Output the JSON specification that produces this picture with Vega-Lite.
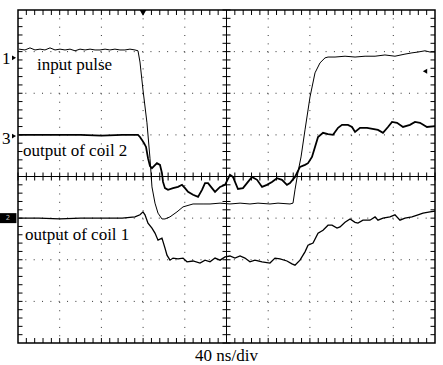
{
"$schema": "https://vega.github.io/schema/vega-lite/v6.json",
"width": 417, "height": 333,
"autosize": {"type": "none"},
"padding": {"left": 18, "top": 10, "right": 8, "bottom": 22},
"background": "white",
"config": {"view": {"stroke": "black", "strokeWidth": 1.5}, "font": "Liberation Serif"},
"datasets": {
"gridx": [{"t":40},{"t":80},{"t":120},{"t":160},{"t":240},{"t":280},{"t":320},{"t":360}],
"gridy": [{"v":-3},{"v":-2},{"v":-1},{"v":1},{"v":2},{"v":3}],
"cx": [{"t":200}],
"cy": [{"v":0}],
"txc": [{"t":0,"v":0},{"t":8,"v":0},{"t":16,"v":0},{"t":24,"v":0},{"t":32,"v":0},{"t":40,"v":0},{"t":48,"v":0},{"t":56,"v":0},{"t":64,"v":0},{"t":72,"v":0},{"t":80,"v":0},{"t":88,"v":0},{"t":96,"v":0},{"t":104,"v":0},{"t":112,"v":0},{"t":120,"v":0},{"t":128,"v":0},{"t":136,"v":0},{"t":144,"v":0},{"t":152,"v":0},{"t":160,"v":0},{"t":168,"v":0},{"t":176,"v":0},{"t":184,"v":0},{"t":192,"v":0},{"t":208,"v":0},{"t":216,"v":0},{"t":224,"v":0},{"t":232,"v":0},{"t":240,"v":0},{"t":248,"v":0},{"t":256,"v":0},{"t":264,"v":0},{"t":272,"v":0},{"t":280,"v":0},{"t":288,"v":0},{"t":296,"v":0},{"t":304,"v":0},{"t":312,"v":0},{"t":320,"v":0},{"t":328,"v":0},{"t":336,"v":0},{"t":344,"v":0},{"t":352,"v":0},{"t":360,"v":0},{"t":368,"v":0},{"t":376,"v":0},{"t":384,"v":0},{"t":392,"v":0},{"t":400,"v":0}],
"txb": [{"t":8,"v":-4},{"t":16,"v":-4},{"t":24,"v":-4},{"t":32,"v":-4},{"t":40,"v":-4},{"t":48,"v":-4},{"t":56,"v":-4},{"t":64,"v":-4},{"t":72,"v":-4},{"t":80,"v":-4},{"t":88,"v":-4},{"t":96,"v":-4},{"t":104,"v":-4},{"t":112,"v":-4},{"t":120,"v":-4},{"t":128,"v":-4},{"t":136,"v":-4},{"t":144,"v":-4},{"t":152,"v":-4},{"t":160,"v":-4},{"t":168,"v":-4},{"t":176,"v":-4},{"t":184,"v":-4},{"t":192,"v":-4},{"t":200,"v":-4},{"t":208,"v":-4},{"t":216,"v":-4},{"t":224,"v":-4},{"t":232,"v":-4},{"t":240,"v":-4},{"t":248,"v":-4},{"t":256,"v":-4},{"t":264,"v":-4},{"t":272,"v":-4},{"t":280,"v":-4},{"t":288,"v":-4},{"t":296,"v":-4},{"t":304,"v":-4},{"t":312,"v":-4},{"t":320,"v":-4},{"t":328,"v":-4},{"t":336,"v":-4},{"t":344,"v":-4},{"t":352,"v":-4},{"t":360,"v":-4},{"t":368,"v":-4},{"t":376,"v":-4},{"t":384,"v":-4},{"t":392,"v":-4},{"t":8,"v":4},{"t":16,"v":4},{"t":24,"v":4},{"t":32,"v":4},{"t":40,"v":4},{"t":48,"v":4},{"t":56,"v":4},{"t":64,"v":4},{"t":72,"v":4},{"t":80,"v":4},{"t":88,"v":4},{"t":96,"v":4},{"t":104,"v":4},{"t":112,"v":4},{"t":120,"v":4},{"t":128,"v":4},{"t":136,"v":4},{"t":144,"v":4},{"t":152,"v":4},{"t":160,"v":4},{"t":168,"v":4},{"t":176,"v":4},{"t":184,"v":4},{"t":192,"v":4},{"t":200,"v":4},{"t":208,"v":4},{"t":216,"v":4},{"t":224,"v":4},{"t":232,"v":4},{"t":240,"v":4},{"t":248,"v":4},{"t":256,"v":4},{"t":264,"v":4},{"t":272,"v":4},{"t":280,"v":4},{"t":288,"v":4},{"t":296,"v":4},{"t":304,"v":4},{"t":312,"v":4},{"t":320,"v":4},{"t":328,"v":4},{"t":336,"v":4},{"t":344,"v":4},{"t":352,"v":4},{"t":360,"v":4},{"t":368,"v":4},{"t":376,"v":4},{"t":384,"v":4},{"t":392,"v":4}],
"tyc": [{"t":200,"v":-4},{"t":200,"v":-3.8},{"t":200,"v":-3.6},{"t":200,"v":-3.4},{"t":200,"v":-3.2},{"t":200,"v":-3},{"t":200,"v":-2.8},{"t":200,"v":-2.6},{"t":200,"v":-2.4},{"t":200,"v":-2.2},{"t":200,"v":-2},{"t":200,"v":-1.8},{"t":200,"v":-1.6},{"t":200,"v":-1.4},{"t":200,"v":-1.2},{"t":200,"v":-1},{"t":200,"v":-0.8},{"t":200,"v":-0.6},{"t":200,"v":-0.4},{"t":200,"v":-0.2},{"t":200,"v":0.2},{"t":200,"v":0.4},{"t":200,"v":0.6},{"t":200,"v":0.8},{"t":200,"v":1},{"t":200,"v":1.2},{"t":200,"v":1.4},{"t":200,"v":1.6},{"t":200,"v":1.8},{"t":200,"v":2},{"t":200,"v":2.2},{"t":200,"v":2.4},{"t":200,"v":2.6},{"t":200,"v":2.8},{"t":200,"v":3},{"t":200,"v":3.2},{"t":200,"v":3.4},{"t":200,"v":3.6},{"t":200,"v":3.8},{"t":200,"v":4}],
"tyb": [{"t":0,"v":-3.8},{"t":0,"v":-3.6},{"t":0,"v":-3.4},{"t":0,"v":-3.2},{"t":0,"v":-3},{"t":0,"v":-2.8},{"t":0,"v":-2.6},{"t":0,"v":-2.4},{"t":0,"v":-2.2},{"t":0,"v":-2},{"t":0,"v":-1.8},{"t":0,"v":-1.6},{"t":0,"v":-1.4},{"t":0,"v":-1.2},{"t":0,"v":-1},{"t":0,"v":-0.8},{"t":0,"v":-0.6},{"t":0,"v":-0.4},{"t":0,"v":-0.2},{"t":0,"v":0},{"t":0,"v":0.2},{"t":0,"v":0.4},{"t":0,"v":0.6},{"t":0,"v":0.8},{"t":0,"v":1},{"t":0,"v":1.2},{"t":0,"v":1.4},{"t":0,"v":1.6},{"t":0,"v":1.8},{"t":0,"v":2},{"t":0,"v":2.2},{"t":0,"v":2.4},{"t":0,"v":2.6},{"t":0,"v":2.8},{"t":0,"v":3},{"t":0,"v":3.2},{"t":0,"v":3.4},{"t":0,"v":3.6},{"t":0,"v":3.8},{"t":400,"v":-3.8},{"t":400,"v":-3.6},{"t":400,"v":-3.4},{"t":400,"v":-3.2},{"t":400,"v":-3},{"t":400,"v":-2.8},{"t":400,"v":-2.6},{"t":400,"v":-2.4},{"t":400,"v":-2.2},{"t":400,"v":-2},{"t":400,"v":-1.8},{"t":400,"v":-1.6},{"t":400,"v":-1.4},{"t":400,"v":-1.2},{"t":400,"v":-1},{"t":400,"v":-0.8},{"t":400,"v":-0.6},{"t":400,"v":-0.4},{"t":400,"v":-0.2},{"t":400,"v":0},{"t":400,"v":0.2},{"t":400,"v":0.4},{"t":400,"v":0.6},{"t":400,"v":0.8},{"t":400,"v":1},{"t":400,"v":1.2},{"t":400,"v":1.4},{"t":400,"v":1.6},{"t":400,"v":1.8},{"t":400,"v":2},{"t":400,"v":2.2},{"t":400,"v":2.4},{"t":400,"v":2.6},{"t":400,"v":2.8},{"t":400,"v":3},{"t":400,"v":3.2},{"t":400,"v":3.4},{"t":400,"v":3.6},{"t":400,"v":3.8}],
"input": [{"t":1,"v":3.06},{"t":6.7,"v":3.04},{"t":11.5,"v":3.09},{"t":16.3,"v":3.04},{"t":21.1,"v":3.06},{"t":25.9,"v":3.04},{"t":30.7,"v":3.09},{"t":35.5,"v":3.04},{"t":40.3,"v":3.06},{"t":45.1,"v":3.04},{"t":49.9,"v":3.06},{"t":54.7,"v":3.02},{"t":59.5,"v":3.06},{"t":64.3,"v":3.04},{"t":69.1,"v":3.06},{"t":73.9,"v":3.04},{"t":78.7,"v":3.04},{"t":83.5,"v":3.06},{"t":88.2,"v":3.04},{"t":93,"v":3.06},{"t":97.8,"v":3.04},{"t":102.6,"v":3.04},{"t":107.4,"v":3.06},{"t":112.2,"v":3.04},{"t":115.1,"v":3.02},{"t":117,"v":2.75},{"t":119.9,"v":2.08},{"t":123.7,"v":1.29},{"t":126.6,"v":0.44},{"t":128.5,"v":-0.25},{"t":131.4,"v":-0.64},{"t":134.3,"v":-0.88},{"t":138.1,"v":-1.02},{"t":141,"v":-1.02},{"t":145.8,"v":-0.97},{"t":152.5,"v":-0.85},{"t":158.3,"v":-0.73},{"t":167.9,"v":-0.66},{"t":177.5,"v":-0.66},{"t":184.2,"v":-0.66},{"t":193.8,"v":-0.64},{"t":203.3,"v":-0.66},{"t":213,"v":-0.64},{"t":222.5,"v":-0.66},{"t":230.2,"v":-0.64},{"t":241.7,"v":-0.66},{"t":249.4,"v":-0.64},{"t":260.9,"v":-0.66},{"t":263.8,"v":-0.64},{"t":265.7,"v":-0.32},{"t":268.6,"v":0.11},{"t":271.5,"v":0.47},{"t":275.3,"v":1.12},{"t":280.1,"v":1.91},{"t":284.9,"v":2.49},{"t":289.7,"v":2.73},{"t":294.5,"v":2.85},{"t":297.4,"v":2.87},{"t":304.1,"v":2.87},{"t":313.7,"v":2.89},{"t":323.3,"v":2.87},{"t":332.9,"v":2.89},{"t":342.5,"v":2.89},{"t":352,"v":2.92},{"t":361.6,"v":2.89},{"t":371.2,"v":2.94},{"t":377.9,"v":2.97},{"t":383.7,"v":2.99},{"t":390.4,"v":3.02},{"t":395.2,"v":2.99},{"t":400,"v":2.99}],
"coil2": [{"t":1,"v":1.0},{"t":20,"v":1.0},{"t":40,"v":1.0},{"t":60,"v":1.0},{"t":80,"v":0.98},{"t":100,"v":1.0},{"t":115.1,"v":1.0},{"t":117,"v":0.95},{"t":118.9,"v":0.88},{"t":120.9,"v":0.8},{"t":122.8,"v":0.71},{"t":124.7,"v":0.44},{"t":126.6,"v":0.25},{"t":128.5,"v":0.2},{"t":133.3,"v":0.32},{"t":136.2,"v":0.28},{"t":138.1,"v":0.08},{"t":139.1,"v":-0.13},{"t":141,"v":-0.28},{"t":143.9,"v":-0.32},{"t":148.7,"v":-0.28},{"t":153.5,"v":-0.25},{"t":157.3,"v":-0.2},{"t":160.2,"v":-0.28},{"t":163.1,"v":-0.37},{"t":167.9,"v":-0.44},{"t":172.7,"v":-0.49},{"t":176.5,"v":-0.32},{"t":179.4,"v":-0.16},{"t":182.3,"v":-0.16},{"t":186.1,"v":-0.28},{"t":189,"v":-0.37},{"t":193.8,"v":-0.25},{"t":198.6,"v":-0.2},{"t":203.3,"v":0.04},{"t":206.2,"v":-0.01},{"t":211,"v":-0.3},{"t":215.8,"v":-0.28},{"t":220.6,"v":-0.13},{"t":224.5,"v":-0.01},{"t":229.3,"v":-0.08},{"t":234.1,"v":-0.25},{"t":238.8,"v":-0.2},{"t":243.6,"v":-0.13},{"t":248.4,"v":-0.04},{"t":253.2,"v":-0.08},{"t":258,"v":-0.2},{"t":260.9,"v":-0.16},{"t":265.7,"v":-0.01},{"t":270.5,"v":0.23},{"t":275.3,"v":0.28},{"t":278.2,"v":0.32},{"t":282,"v":0.47},{"t":284.9,"v":0.71},{"t":287.8,"v":0.95},{"t":292.6,"v":1.05},{"t":297.4,"v":1.02},{"t":302.2,"v":1.0},{"t":307,"v":1.17},{"t":310.8,"v":1.24},{"t":316.5,"v":1.24},{"t":320.4,"v":1.19},{"t":323.3,"v":1.07},{"t":328.1,"v":1.17},{"t":334.8,"v":1.17},{"t":345.3,"v":1.12},{"t":350.1,"v":1.05},{"t":354.9,"v":1.19},{"t":358.8,"v":1.31},{"t":363.6,"v":1.29},{"t":369.3,"v":1.19},{"t":376,"v":1.24},{"t":380.8,"v":1.31},{"t":385.6,"v":1.29},{"t":392.3,"v":1.19},{"t":400,"v":1.21}],
"coil1": [{"t":1,"v":-1.0},{"t":20,"v":-1.0},{"t":40,"v":-1.02},{"t":60,"v":-1.0},{"t":80,"v":-1.0},{"t":100,"v":-1.0},{"t":112.2,"v":-0.97},{"t":117,"v":-0.92},{"t":119.9,"v":-0.85},{"t":121.8,"v":-0.92},{"t":124.7,"v":-1.12},{"t":128.5,"v":-1.24},{"t":131.4,"v":-1.36},{"t":134.3,"v":-1.53},{"t":138.1,"v":-1.48},{"t":141,"v":-1.72},{"t":142.9,"v":-1.89},{"t":145.8,"v":-2.01},{"t":148.7,"v":-1.96},{"t":153.5,"v":-1.98},{"t":158.3,"v":-1.96},{"t":162.1,"v":-2.05},{"t":167.9,"v":-2.03},{"t":174.6,"v":-2.08},{"t":179.4,"v":-2.01},{"t":184.2,"v":-2.05},{"t":189,"v":-1.96},{"t":193.8,"v":-2.01},{"t":198.6,"v":-1.93},{"t":203.3,"v":-1.91},{"t":208.1,"v":-1.96},{"t":213,"v":-1.91},{"t":217.7,"v":-1.96},{"t":222.5,"v":-2.05},{"t":227.3,"v":-2.01},{"t":234.1,"v":-2.05},{"t":241.7,"v":-2.08},{"t":246.5,"v":-1.96},{"t":251.3,"v":-1.98},{"t":258,"v":-2.03},{"t":262.8,"v":-2.1},{"t":265.7,"v":-2.13},{"t":270.5,"v":-2.01},{"t":275.3,"v":-1.81},{"t":278.2,"v":-1.65},{"t":283,"v":-1.6},{"t":287.8,"v":-1.36},{"t":292.6,"v":-1.29},{"t":297.4,"v":-1.17},{"t":301.2,"v":-1.17},{"t":306,"v":-1.24},{"t":308.9,"v":-1.21},{"t":313.7,"v":-1.1},{"t":318.5,"v":-1.02},{"t":323.3,"v":-1.1},{"t":326.1,"v":-1.12},{"t":330.9,"v":-1.05},{"t":337.6,"v":-1.05},{"t":342.5,"v":-0.97},{"t":345.3,"v":-1.05},{"t":350.1,"v":-1.0},{"t":356.8,"v":-0.97},{"t":361.6,"v":-0.92},{"t":366.4,"v":-1.05},{"t":371.2,"v":-1.0},{"t":377.9,"v":-0.97},{"t":383.7,"v":-0.92},{"t":388.5,"v":-0.88},{"t":395.2,"v":-0.85},{"t":400,"v":-0.83}],
"labels": [{"t":18.2,"v":2.56,"text":"input pulse"},{"t":4.8,"v":0.49,"text":"output of coil 2"},{"t":6.7,"v":-1.53,"text":"output of coil 1"},{"t":-15.3,"v":2.7,"text":"1"},{"t":-15.3,"v":0.78,"text":"3"}],
"caption": [{"t":200,"v":-4.43,"text":"40 ns/div"}],
"arrows": [{"t":-3.8,"v":2.85},{"t":-3.8,"v":0.97}]
},
"layer": [
{"data": {"name": "gridx"}, "mark": {"type": "rule", "strokeDash": [1, 7.34], "color": "#333", "strokeWidth": 1},
 "encoding": {"x": {"field": "t", "type": "quantitative", "scale": {"domain": [0, 400], "nice": false, "zero": false}, "axis": null}}},
{"data": {"name": "gridy"}, "mark": {"type": "rule", "strokeDash": [1, 7.34], "color": "#333", "strokeWidth": 1},
 "encoding": {"y": {"field": "v", "type": "quantitative", "scale": {"domain": [-4, 4], "nice": false, "zero": false}, "axis": null}}},
{"data": {"name": "cx"}, "mark": {"type": "rule", "color": "black", "strokeWidth": 1},
 "encoding": {"x": {"field": "t", "type": "quantitative", "scale": {"domain": [0, 400], "nice": false, "zero": false}, "axis": null}}},
{"data": {"name": "cy"}, "mark": {"type": "rule", "color": "black", "strokeWidth": 1},
 "encoding": {"y": {"field": "v", "type": "quantitative", "scale": {"domain": [-4, 4], "nice": false, "zero": false}, "axis": null}}},
{"data": {"name": "txc"}, "mark": {"type": "point", "shape": "M0,-1L0,1", "size": 64, "filled": false, "stroke": "black", "strokeWidth": 1, "opacity": 1},
 "encoding": {"x": {"field": "t", "type": "quantitative", "scale": {"domain": [0, 400], "nice": false, "zero": false}, "axis": null},
  "y": {"field": "v", "type": "quantitative", "scale": {"domain": [-4, 4], "nice": false, "zero": false}, "axis": null}}},
{"data": {"name": "txb"}, "mark": {"type": "point", "shape": "M0,-1L0,1", "size": 100, "filled": false, "stroke": "black", "strokeWidth": 1, "opacity": 1, "clip": true},
 "encoding": {"x": {"field": "t", "type": "quantitative", "scale": {"domain": [0, 400], "nice": false, "zero": false}, "axis": null},
  "y": {"field": "v", "type": "quantitative", "scale": {"domain": [-4, 4], "nice": false, "zero": false}, "axis": null}}},
{"data": {"name": "tyc"}, "mark": {"type": "point", "shape": "M-1,0L1,0", "size": 64, "filled": false, "stroke": "black", "strokeWidth": 1, "opacity": 1},
 "encoding": {"x": {"field": "t", "type": "quantitative", "scale": {"domain": [0, 400], "nice": false, "zero": false}, "axis": null},
  "y": {"field": "v", "type": "quantitative", "scale": {"domain": [-4, 4], "nice": false, "zero": false}, "axis": null}}},
{"data": {"name": "tyb"}, "mark": {"type": "point", "shape": "M-1,0L1,0", "size": 81, "filled": false, "stroke": "black", "strokeWidth": 1, "opacity": 1, "clip": true},
 "encoding": {"x": {"field": "t", "type": "quantitative", "scale": {"domain": [0, 400], "nice": false, "zero": false}, "axis": null},
  "y": {"field": "v", "type": "quantitative", "scale": {"domain": [-4, 4], "nice": false, "zero": false}, "axis": null}}},
{"data": {"name": "input"}, "mark": {"type": "line", "color": "black", "strokeWidth": 1},
 "encoding": {"x": {"field": "t", "type": "quantitative", "scale": {"domain": [0, 400], "nice": false, "zero": false}, "axis": null},
  "y": {"field": "v", "type": "quantitative", "scale": {"domain": [-4, 4], "nice": false, "zero": false}, "axis": null}}},
{"data": {"name": "coil2"}, "mark": {"type": "line", "color": "black", "strokeWidth": 1.8},
 "encoding": {"x": {"field": "t", "type": "quantitative", "scale": {"domain": [0, 400], "nice": false, "zero": false}, "axis": null},
  "y": {"field": "v", "type": "quantitative", "scale": {"domain": [-4, 4], "nice": false, "zero": false}, "axis": null}}},
{"data": {"name": "coil1"}, "mark": {"type": "line", "color": "black", "strokeWidth": 1.3},
 "encoding": {"x": {"field": "t", "type": "quantitative", "scale": {"domain": [0, 400], "nice": false, "zero": false}, "axis": null},
  "y": {"field": "v", "type": "quantitative", "scale": {"domain": [-4, 4], "nice": false, "zero": false}, "axis": null}}},
{"data": {"name": "labels"}, "mark": {"type": "text", "align": "left", "baseline": "alphabetic", "fontSize": 17, "font": "Liberation Serif", "color": "black"},
 "encoding": {"x": {"field": "t", "type": "quantitative", "scale": {"domain": [0, 400], "nice": false, "zero": false}, "axis": null},
  "y": {"field": "v", "type": "quantitative", "scale": {"domain": [-4, 4], "nice": false, "zero": false}, "axis": null},
  "text": {"field": "text"}}},
{"data": {"name": "caption"}, "mark": {"type": "text", "align": "center", "baseline": "alphabetic", "fontSize": 17, "font": "Liberation Serif", "color": "black"},
 "encoding": {"x": {"field": "t", "type": "quantitative", "scale": {"domain": [0, 400], "nice": false, "zero": false}, "axis": null},
  "y": {"field": "v", "type": "quantitative", "scale": {"domain": [-4, 4], "nice": false, "zero": false}, "axis": null},
  "text": {"field": "text"}}},
{"data": {"name": "arrows"}, "mark": {"type": "point", "shape": "triangle-right", "size": 22, "filled": true, "color": "black", "opacity": 1},
 "encoding": {"x": {"field": "t", "type": "quantitative", "scale": {"domain": [0, 400], "nice": false, "zero": false}, "axis": null},
  "y": {"field": "v", "type": "quantitative", "scale": {"domain": [-4, 4], "nice": false, "zero": false}, "axis": null}}},
{"data": {"name": "caption"}, "mark": {"type": "point", "shape": "triangle-down", "size": 45, "filled": true, "color": "black", "opacity": 1},
 "encoding": {"x": {"datum": 119.9, "type": "quantitative", "scale": {"domain": [0, 400], "nice": false, "zero": false}, "axis": null},
  "y": {"datum": 3.93, "type": "quantitative", "scale": {"domain": [-4, 4], "nice": false, "zero": false}, "axis": null}}},
{"data": {"name": "caption"}, "mark": {"type": "point", "shape": "triangle-left", "size": 25, "filled": true, "color": "black", "opacity": 1},
 "encoding": {"x": {"datum": 390.4, "type": "quantitative", "scale": {"domain": [0, 400], "nice": false, "zero": false}, "axis": null},
  "y": {"datum": 2.53, "type": "quantitative", "scale": {"domain": [-4, 4], "nice": false, "zero": false}, "axis": null}}},
{"data": {"name": "caption"}, "mark": {"type": "rect", "color": "black"},
 "encoding": {"x": {"datum": -17.3, "type": "quantitative", "scale": {"domain": [0, 400], "nice": false, "zero": false}, "axis": null},
  "x2": {"datum": -1.5},
  "y": {"datum": -0.88, "type": "quantitative", "scale": {"domain": [-4, 4], "nice": false, "zero": false}, "axis": null},
  "y2": {"datum": -1.12}}},
{"data": {"name": "caption"}, "mark": {"type": "text", "align": "center", "baseline": "middle", "fontSize": 7, "font": "DejaVu Sans", "color": "#bbb"},
 "encoding": {"x": {"datum": -9.5, "type": "quantitative", "scale": {"domain": [0, 400], "nice": false, "zero": false}, "axis": null},
  "y": {"datum": -1.0, "type": "quantitative", "scale": {"domain": [-4, 4], "nice": false, "zero": false}, "axis": null},
  "text": {"value": "2"}}}
]
}
